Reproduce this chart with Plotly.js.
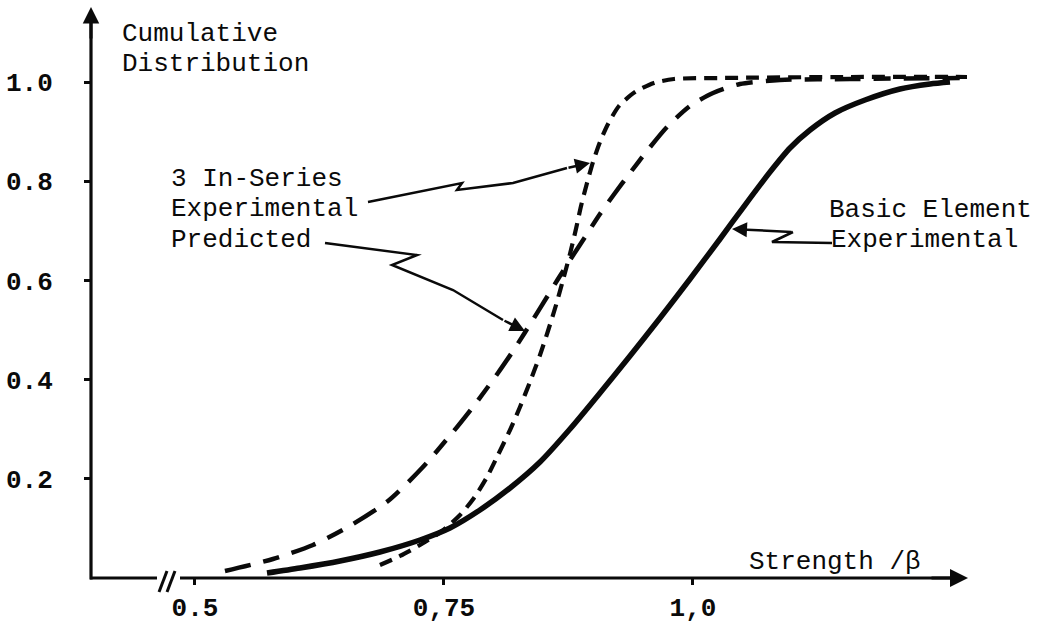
<!DOCTYPE html>
<html>
<head>
<meta charset="utf-8">
<script src="https://cdn.plot.ly/plotly-3.0.1.min.js"></script>
<style>html,body{margin:0;padding:0;background:#fff;}#chart{width:1041px;height:625px;}</style>
</head>
<body>
<div id="chart"></div>
<script>
// ---- data ----
const basicX = [0.5723,0.6054,0.6456,0.6857,0.7259,0.7560,0.7861,0.8163,0.8464,0.8765,0.9066,0.9367,0.9669,0.9970,1.0271,1.0522,1.0773,1.0974,1.1175,1.1426,1.1727,1.2078,1.2380,1.2580];
const basicY = [0.0101,0.0202,0.0343,0.0524,0.0766,0.1008,0.1371,0.1815,0.2339,0.3004,0.3730,0.4476,0.5242,0.6028,0.6835,0.7520,0.8185,0.8669,0.9032,0.9375,0.9637,0.9859,0.9960,1.0000];

const seriesExpX = [0.6857,0.7058,0.7259,0.7480,0.7661,0.7801,0.7932,0.8042,0.8163,0.8263,0.8363,0.8464,0.8544,0.8625,0.8695,0.8765,0.8825,0.8876,0.8936,0.8996,0.9066,0.9147,0.9257,0.9418,0.9608,0.9809,1.0271,1.1576,1.2781];
const seriesExpY = [0.0262,0.0444,0.0665,0.0948,0.1270,0.1613,0.2036,0.2480,0.2984,0.3448,0.3952,0.4496,0.4980,0.5504,0.6008,0.6532,0.7036,0.7500,0.7964,0.8387,0.8790,0.9153,0.9516,0.9798,0.9980,1.0060,1.0081,1.0101,1.0101];

const predX = [0.5301,0.5783,0.6185,0.6536,0.6938,0.7279,0.7590,0.7821,0.8042,0.8213,0.8404,0.8534,0.8645,0.8785,0.8916,0.9066,0.9217,0.9367,0.9538,0.9739,0.9970,1.0201,1.0472,1.0873,1.1576,1.2681];
const predY = [0.0141,0.0383,0.0665,0.1028,0.1552,0.2218,0.2944,0.3528,0.4133,0.4637,0.5242,0.5665,0.6028,0.6472,0.6875,0.7339,0.7762,0.8165,0.8609,0.9093,0.9516,0.9778,0.9960,1.0040,1.0060,1.0081];

const yTickVals = [0.2,0.4,0.6,0.8,1.0];
const yTickText = ['0.2','0.4','0.6','0.8','1.0'];
const xTickVals = [0.5,0.75,1.0];
const xTickText = ['0.5','0,75','1,0'];

// ---- layout geometry ----
const W = 1041, H = 625;
const M = {l:91, r:74, t:8, b:47};
const xRange = [0.3956, 1.2751];
const yRange = [0, 1.1492];
const plotW = W - M.l - M.r, plotH = H - M.t - M.b;
function X(px){ return xRange[0] + (px - M.l) / plotW * (xRange[1]-xRange[0]); }
function Y(py){ return yRange[0] + (H - M.b - py) / plotH * (yRange[1]-yRange[0]); }
function PXp(px){ return (px - M.l) / plotW; }
function PYp(py){ return (H - M.b - py) / plotH; }

const FONT = 'Liberation Mono, DejaVu Sans Mono, monospace';
const INK = '#0a0a0a';

const traces = [
  {x: basicX, y: basicY, mode:'lines', line:{color:INK, width:5.5, shape:'spline', smoothing:0.7}, hoverinfo:'skip'},
  {x: predX, y: predY, mode:'lines', line:{color:INK, width:4.5, shape:'spline', smoothing:0.7, dash:'26px,13px,17px,13px'}, hoverinfo:'skip'},
  {x: seriesExpX, y: seriesExpY, mode:'lines', line:{color:INK, width:4.2, shape:'spline', smoothing:0.7, dash:'13px,8px'}, hoverinfo:'skip'}
];

function pathFrom(pts){
  return pts.map((p,i)=> (i?'L':'M') + X(p[0]) + ',' + Y(p[1])).join(' ');
}

const shapes = [
  // axes
  {type:'line', xref:'paper', yref:'paper', x0:PXp(91), y0:PYp(579.5), x1:PXp(91), y1:PYp(22), line:{color:INK, width:3.2}},
  {type:'line', xref:'paper', yref:'paper', x0:PXp(90), y0:PYp(578), x1:PXp(157), y1:PYp(578), line:{color:INK, width:3}},
  {type:'line', xref:'paper', yref:'paper', x0:PXp(180), y0:PYp(578), x1:PXp(950), y1:PYp(578), line:{color:INK, width:3}},
  // break marks
  {type:'line', xref:'paper', yref:'paper', x0:PXp(159), y0:PYp(592), x1:PXp(167), y1:PYp(571), line:{color:INK, width:3}},
  {type:'line', xref:'paper', yref:'paper', x0:PXp(167), y0:PYp(592), x1:PXp(175), y1:PYp(571), line:{color:INK, width:3}},
  // leader lines
  {type:'path', xref:'x', yref:'y', path:pathFrom([[368,202],[462,183],[457,190],[513,183],[567,168]]), line:{color:INK, width:2.5}},
  {type:'path', xref:'x', yref:'y', path:pathFrom([[325,243],[417,255],[392,265],[453,290],[503,320]]), line:{color:INK, width:2.5}},
  {type:'path', xref:'x', yref:'y', path:pathFrom([[832,243],[772,242],[793,232]]), line:{color:INK, width:2.5}}
];

function arrowPaper(tail, head, w, size){
  return {x:PXp(head[0]), y:PYp(head[1]), xref:'paper', yref:'paper', ax:tail[0]-head[0], ay:tail[1]-head[1],
          text:'', showarrow:true, arrowhead:2, arrowsize:size, arrowwidth:w, arrowcolor:INK, standoff:0, startstandoff:0};
}
function label(txt, leftPx, midPx){
  return {x:PXp(leftPx), y:PYp(midPx), xref:'paper', yref:'paper', text:txt, showarrow:false, xanchor:'left', yanchor:'middle',
          font:{family:FONT, size:26, color:INK}};
}

const annotations = [
  arrowPaper([91,40],[91,7],3,1.1),
  arrowPaper([930,578],[968,578],3,1.2),
  arrowPaper([567,168],[590,163],2.5,1.2),
  arrowPaper([503,320],[525,331],2.5,1.2),
  arrowPaper([793,232],[732,229],2.5,1.2),
  label('Cumulative', 120, 34),
  label('Distribution', 120, 64),
  label('3 In-Series', 169, 179),
  label('Experimental', 169, 209),
  label('Predicted', 169, 240),
  label('Basic Element', 827, 210),
  label('Experimental', 829, 240),
  label('Strength /β', 747, 562)
];

const layout = {
  width:W, height:H, margin:M, paper_bgcolor:'#fff', plot_bgcolor:'#fff', showlegend:false,
  xaxis:{range:xRange, showgrid:false, zeroline:false, showline:false, automargin:false, fixedrange:true,
         tickmode:'array', tickvals:xTickVals, ticktext:xTickText, ticks:'outside', ticklen:6, tickwidth:3, tickcolor:INK,
         ticklabelstandoff:0, tickfont:{family:FONT, size:26, color:INK, weight:'bold'}},
  yaxis:{range:yRange, showgrid:false, zeroline:false, showline:false, automargin:false, fixedrange:true,
         tickmode:'array', tickvals:yTickVals, ticktext:yTickText, ticks:'outside', ticklen:6, tickwidth:3, tickcolor:INK,
         ticklabelstandoff:26, tickfont:{family:FONT, size:26, color:INK, weight:'bold'}},
  shapes:shapes, annotations:annotations
};

Plotly.newPlot('chart', traces, layout, {staticPlot:true, displayModeBar:false});
</script>
</body>
</html>
